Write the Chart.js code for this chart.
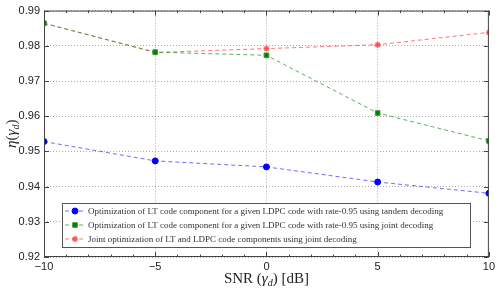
<!DOCTYPE html>
<html>
<head>
<meta charset="utf-8">
<script src="https://cdn.jsdelivr.net/npm/chart.js@4/dist/chart.umd.min.js"></script>
<style>
  html, body { margin: 0; padding: 0; background: #fff; }
  #wrap { width: 498px; height: 288px; }
</style>
</head>
<body>
<div id="wrap"><canvas id="chart" width="498" height="288"></canvas></div>
<script>
// Dados
const snr = [-10, -5, 0, 5, 10];
const tandem = [0.9528, 0.9473, 0.9456, 0.9413, 0.9381];
const jointDecoding = [0.9864, 0.9782, 0.9773, 0.9609, 0.9530];
const jointOptimization = [0.9864, 0.9781, 0.9792, 0.9803, 0.9838];
const xTicks = [-10, -5, 0, 5, 10];
const yTicks = [0.92, 0.93, 0.94, 0.95, 0.96, 0.97, 0.98, 0.99];
const seriesLabels = [
    'Optimization of LT code component for a given LDPC code with rate-0.95 using tandem decoding',
    'Optimization of LT code component for a given LDPC code with rate-0.95 using joint decoding',
    'Joint optimization of LT and LDPC code components using joint decoding'
];

const SANS = '"Liberation Sans", Arial, sans-serif';
const SERIF = '"Liberation Serif", "DejaVu Serif", serif';

function toPoints(values) {
    return snr.map((x, i) => ({ x: x, y: values[i] }));
}

function drawMarker(ctx, ds, x, y) {
    ctx.save();
    ctx.fillStyle = ds.pointBackgroundColor;
    ctx.strokeStyle = ds.pointBorderColor;
    ctx.lineWidth = ds.pointBorderWidth;
    Chart.helpers.drawPoint(ctx, {
        pointStyle: ds.pointStyle, radius: ds.pointRadius, borderWidth: ds.pointBorderWidth, rotation: 0
    }, x, y);
    ctx.restore();
}

// Texto com subscrito (γ_d)
function drawParts(ctx, parts, cx, y) {
    let total = 0;
    parts.forEach(p => { ctx.font = p[1]; total += ctx.measureText(p[0]).width; });
    let x = cx - total / 2;
    parts.forEach(p => {
        ctx.font = p[1];
        ctx.fillText(p[0], x, y + p[2]);
        x += ctx.measureText(p[0]).width;
    });
}

// Moldura, marcas de escala e rótulos dos eixos
const framePlugin = {
    id: 'frame',
    afterDraw(chart) {
        const ctx = chart.ctx;
        const a = chart.chartArea;
        const xs = chart.scales.x, ys = chart.scales.y;
        ctx.save();
        ctx.strokeStyle = '#444';
        ctx.lineWidth = 1;
        ctx.setLineDash([]);
        ctx.strokeRect(a.left + 0.5, a.top + 0.5, a.right - a.left - 1, a.bottom - a.top - 1);
        ctx.beginPath();
        for (let v = -10; v <= 10; v++) {
            const px = Math.round(xs.getPixelForValue(v)) + 0.5;
            const len = v % 5 === 0 ? 5 : 2.5;
            ctx.moveTo(px, a.bottom); ctx.lineTo(px, a.bottom - len);
            ctx.moveTo(px, a.top); ctx.lineTo(px, a.top + len);
        }
        yTicks.forEach(v => {
            const py = Math.round(ys.getPixelForValue(v)) + 0.5;
            ctx.moveTo(a.left, py); ctx.lineTo(a.left + 5, py);
            ctx.moveTo(a.right, py); ctx.lineTo(a.right - 5, py);
        });
        ctx.stroke();

        ctx.fillStyle = '#222';
        ctx.textBaseline = 'alphabetic';
        const big = '15px ' + SERIF, ital = 'italic 15px ' + SERIF, sub = 'italic 10px ' + SERIF;
        drawParts(ctx, [['SNR (', big, 0], ['γ', ital, 0], ['d', sub, 3], [') [dB]', big, 0]],
            (a.left + a.right) / 2, 283);

        ctx.translate(16, (a.top + a.bottom) / 2);
        ctx.rotate(-Math.PI / 2);
        drawParts(ctx, [['η', ital, 0], ['(', big, 0], ['γ', ital, 0], ['d', sub, 3], [')', big, 0]], 0, 0);
        ctx.restore();
    }
};

// Legenda desenhada dentro da área do gráfico
const insideLegendPlugin = {
    id: 'insideLegend',
    afterDraw(chart) {
        const ctx = chart.ctx;
        const box = { x: 62, y: 203, w: 408, h: 44 };
        ctx.save();
        ctx.fillStyle = '#fff';
        ctx.fillRect(box.x, box.y, box.w, box.h);
        ctx.strokeStyle = '#555';
        ctx.lineWidth = 1;
        ctx.strokeRect(box.x + 0.5, box.y + 0.5, box.w, box.h);
        chart.data.datasets.forEach((ds, i) => {
            const cy = box.y + 8 + i * 14;
            ctx.strokeStyle = ds.borderColor;
            ctx.setLineDash(ds.borderDash);
            ctx.lineWidth = 1;
            ctx.beginPath();
            ctx.moveTo(box.x + 3, cy); ctx.lineTo(box.x + 24, cy);
            ctx.stroke();
            ctx.setLineDash([]);
            drawMarker(ctx, ds, box.x + 13, cy);
            ctx.fillStyle = '#333';
            ctx.font = '9px ' + SERIF;
            ctx.textBaseline = 'middle';
            ctx.fillText(ds.label, box.x + 26, cy + 0.5);
        });
        ctx.restore();
    }
};

new Chart(document.getElementById('chart'), {
    type: 'scatter',
    data: {
        datasets: [
            {
                label: seriesLabels[0],
                data: toPoints(tandem),
                showLine: true,
                borderColor: 'rgba(60, 60, 255, 0.75)',
                borderWidth: 1,
                borderDash: [4, 3],
                pointStyle: 'circle',
                pointRadius: 3,
                pointBackgroundColor: '#0000ff',
                pointBorderColor: '#0000ff',
                pointBorderWidth: 1
            },
            {
                label: seriesLabels[1],
                data: toPoints(jointDecoding),
                showLine: true,
                borderColor: 'rgba(40, 150, 40, 0.75)',
                borderWidth: 1,
                borderDash: [4, 3],
                pointStyle: 'rect',
                pointRadius: 3.3,
                pointBackgroundColor: '#008000',
                pointBorderColor: '#3a9a3a',
                pointBorderWidth: 1
            },
            {
                label: seriesLabels[2],
                data: toPoints(jointOptimization),
                showLine: true,
                borderColor: 'rgba(255, 60, 60, 0.7)',
                borderWidth: 1,
                borderDash: [4, 3],
                pointStyle: 'star',
                pointRadius: 3,
                pointBackgroundColor: '#ff3030',
                pointBorderColor: 'rgba(255, 60, 60, 0.8)',
                pointBorderWidth: 1.5
            }
        ]
    },
    options: {
        responsive: false,
        animation: false,
        devicePixelRatio: 1,
        layout: { padding: { left: 0, right: 9, top: 7, bottom: 0 } },
        plugins: { legend: { display: false }, tooltip: { enabled: false } },
        scales: {
            x: {
                type: 'linear',
                min: -10,
                max: 10,
                afterBuildTicks: s => { s.ticks = xTicks.map(v => ({ value: v })); },
                afterFit: s => { s.height = 31; },
                border: { display: false, dash: [1, 2] },
                grid: { color: '#aaa', lineWidth: 1, drawTicks: false },
                ticks: {
                    padding: 3,
                    color: '#222',
                    font: { family: SANS, size: 11 },
                    callback: v => String(v).replace('-', '\u2212')
                }
            },
            y: {
                min: 0.92,
                max: 0.99,
                afterBuildTicks: s => { s.ticks = yTicks.map(v => ({ value: v })); },
                afterFit: s => { s.width = 44; },
                border: { display: false, dash: [1, 2] },
                grid: { color: '#aaa', lineWidth: 1, drawTicks: false },
                ticks: {
                    padding: 4,
                    color: '#222',
                    font: { family: SANS, size: 11 },
                    callback: v => v.toFixed(2)
                }
            }
        }
    },
    plugins: [framePlugin, insideLegendPlugin]
});
</script>
</body>
</html>
